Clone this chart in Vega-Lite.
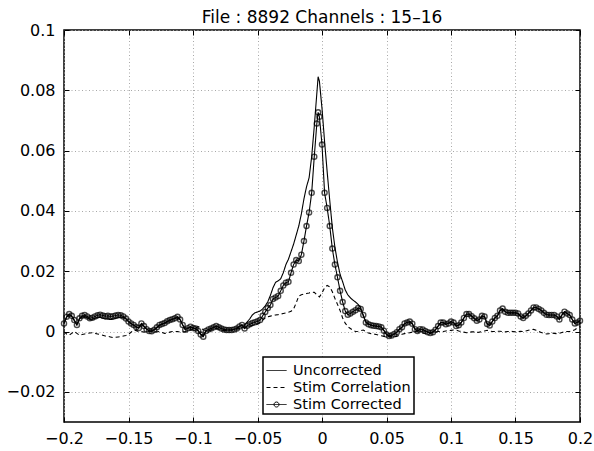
{
"$schema":"https://vega.github.io/schema/vega-lite/v6.json",
"width":516,"height":392,
"autosize":{"type":"none"},
"padding":{"left":64,"top":30,"right":14,"bottom":29},
"background":"white",
"title":{"text":"File : 8892 Channels : 15–16","fontSize":17,"fontWeight":"normal","font":"DejaVu Sans","color":"black","offset":-5},
"config":{"view":{"stroke":"black","strokeWidth":1.5},"font":"DejaVu Sans",
"axis":{"labelFont":"DejaVu Sans","labelFontSize":16,"labelColor":"black","labelFlush":false,"tickColor":"black","tickWidth":1,"gridColor":"#a8a8a8","gridDash":[1,2.5],"gridWidth":1,"domain":false,"title":null}},
"data":{"values":[
{"x":-0.200,"u":0.0027,"s":0.0000,"c":0.0027},
{"x":-0.198,"u":0.0047,"s":-0.0008,"c":0.0049},
{"x":-0.196,"u":0.0056,"s":-0.0012,"c":0.0058},
{"x":-0.194,"u":0.0050,"s":-0.0006,"c":0.0052},
{"x":-0.192,"u":0.0036,"s":0.0000,"c":0.0038},
{"x":-0.190,"u":0.0022,"s":-0.0006,"c":0.0022},
{"x":-0.188,"u":0.0042,"s":-0.0012,"c":0.0044},
{"x":-0.186,"u":0.0048,"s":-0.0010,"c":0.0052},
{"x":-0.184,"u":0.0050,"s":-0.0008,"c":0.0055},
{"x":-0.182,"u":0.0046,"s":-0.0006,"c":0.0050},
{"x":-0.180,"u":0.0040,"s":-0.0005,"c":0.0044},
{"x":-0.178,"u":0.0041,"s":-0.0004,"c":0.0046},
{"x":-0.176,"u":0.0044,"s":-0.0006,"c":0.0050},
{"x":-0.174,"u":0.0046,"s":-0.0008,"c":0.0054},
{"x":-0.172,"u":0.0047,"s":-0.0010,"c":0.0056},
{"x":-0.170,"u":0.0044,"s":-0.0012,"c":0.0053},
{"x":-0.168,"u":0.0042,"s":-0.0015,"c":0.0051},
{"x":-0.166,"u":0.0041,"s":-0.0016,"c":0.0052},
{"x":-0.164,"u":0.0040,"s":-0.0018,"c":0.0050},
{"x":-0.162,"u":0.0041,"s":-0.0020,"c":0.0051},
{"x":-0.160,"u":0.0043,"s":-0.0019,"c":0.0053},
{"x":-0.158,"u":0.0046,"s":-0.0018,"c":0.0055},
{"x":-0.156,"u":0.0048,"s":-0.0017,"c":0.0054},
{"x":-0.154,"u":0.0047,"s":-0.0015,"c":0.0050},
{"x":-0.152,"u":0.0042,"s":-0.0013,"c":0.0043},
{"x":-0.150,"u":0.0033,"s":-0.0010,"c":0.0033},
{"x":-0.148,"u":0.0026,"s":-0.0002,"c":0.0027},
{"x":-0.146,"u":0.0021,"s":0.0005,"c":0.0022},
{"x":-0.144,"u":0.0015,"s":0.0003,"c":0.0015},
{"x":-0.142,"u":0.0012,"s":0.0000,"c":0.0012},
{"x":-0.140,"u":0.0025,"s":0.0000,"c":0.0027},
{"x":-0.138,"u":0.0017,"s":-0.0002,"c":0.0018},
{"x":-0.136,"u":0.0008,"s":-0.0001,"c":0.0008},
{"x":-0.134,"u":0.0003,"s":0.0000,"c":0.0002},
{"x":-0.132,"u":0.0002,"s":0.0001,"c":0.0001},
{"x":-0.130,"u":0.0006,"s":0.0000,"c":0.0006},
{"x":-0.128,"u":0.0013,"s":-0.0001,"c":0.0014},
{"x":-0.126,"u":0.0020,"s":0.0000,"c":0.0022},
{"x":-0.124,"u":0.0024,"s":-0.0003,"c":0.0025},
{"x":-0.122,"u":0.0027,"s":-0.0006,"c":0.0028},
{"x":-0.120,"u":0.0032,"s":-0.0005,"c":0.0034},
{"x":-0.118,"u":0.0036,"s":-0.0002,"c":0.0038},
{"x":-0.116,"u":0.0040,"s":0.0000,"c":0.0041},
{"x":-0.114,"u":0.0043,"s":0.0000,"c":0.0044},
{"x":-0.112,"u":0.0046,"s":0.0000,"c":0.0049},
{"x":-0.110,"u":0.0039,"s":-0.0002,"c":0.0040},
{"x":-0.108,"u":0.0022,"s":-0.0001,"c":0.0022},
{"x":-0.106,"u":0.0007,"s":0.0000,"c":0.0006},
{"x":-0.104,"u":0.0011,"s":0.0002,"c":0.0011},
{"x":-0.102,"u":0.0015,"s":0.0004,"c":0.0016},
{"x":-0.100,"u":0.0012,"s":0.0008,"c":0.0012},
{"x":-0.098,"u":0.0010,"s":0.0012,"c":0.0010},
{"x":-0.096,"u":0.0003,"s":0.0016,"c":0.0002},
{"x":-0.094,"u":-0.0008,"s":0.0012,"c":-0.0010},
{"x":-0.092,"u":-0.0014,"s":0.0006,"c":-0.0017},
{"x":-0.090,"u":0.0002,"s":0.0003,"c":0.0002},
{"x":-0.088,"u":0.0007,"s":0.0003,"c":0.0007},
{"x":-0.086,"u":0.0010,"s":0.0005,"c":0.0010},
{"x":-0.084,"u":0.0013,"s":0.0008,"c":0.0014},
{"x":-0.082,"u":0.0017,"s":0.0010,"c":0.0018},
{"x":-0.080,"u":0.0014,"s":0.0008,"c":0.0014},
{"x":-0.078,"u":0.0010,"s":0.0005,"c":0.0010},
{"x":-0.076,"u":0.0007,"s":0.0004,"c":0.0007},
{"x":-0.074,"u":0.0005,"s":0.0004,"c":0.0005},
{"x":-0.072,"u":0.0005,"s":0.0005,"c":0.0005},
{"x":-0.070,"u":0.0005,"s":0.0005,"c":0.0005},
{"x":-0.068,"u":0.0007,"s":0.0006,"c":0.0007},
{"x":-0.066,"u":0.0011,"s":0.0008,"c":0.0010},
{"x":-0.064,"u":0.0017,"s":0.0010,"c":0.0017},
{"x":-0.062,"u":0.0021,"s":0.0012,"c":0.0022},
{"x":-0.060,"u":0.0022,"s":0.0013,"c":0.0010},
{"x":-0.058,"u":0.0032,"s":0.0015,"c":0.0019},
{"x":-0.056,"u":0.0042,"s":0.0018,"c":0.0024},
{"x":-0.054,"u":0.0055,"s":0.0020,"c":0.0028},
{"x":-0.052,"u":0.0062,"s":0.0022,"c":0.0031},
{"x":-0.050,"u":0.0065,"s":0.0025,"c":0.0034},
{"x":-0.048,"u":0.0068,"s":0.0030,"c":0.0038},
{"x":-0.046,"u":0.0075,"s":0.0038,"c":0.0052},
{"x":-0.044,"u":0.0085,"s":0.0045,"c":0.0065},
{"x":-0.042,"u":0.0099,"s":0.0049,"c":0.0078},
{"x":-0.040,"u":0.0120,"s":0.0051,"c":0.0088},
{"x":-0.038,"u":0.0145,"s":0.0053,"c":0.0108},
{"x":-0.036,"u":0.0163,"s":0.0055,"c":0.0113},
{"x":-0.034,"u":0.0168,"s":0.0056,"c":0.0118},
{"x":-0.032,"u":0.0175,"s":0.0058,"c":0.0135},
{"x":-0.030,"u":0.0195,"s":0.0060,"c":0.0153},
{"x":-0.028,"u":0.0222,"s":0.0062,"c":0.0162},
{"x":-0.026,"u":0.0240,"s":0.0064,"c":0.0165},
{"x":-0.024,"u":0.0265,"s":0.0067,"c":0.0195},
{"x":-0.022,"u":0.0290,"s":0.0075,"c":0.0222},
{"x":-0.020,"u":0.0320,"s":0.0095,"c":0.0237},
{"x":-0.018,"u":0.0350,"s":0.0118,"c":0.0234},
{"x":-0.016,"u":0.0390,"s":0.0122,"c":0.0255},
{"x":-0.014,"u":0.0440,"s":0.0124,"c":0.0300},
{"x":-0.012,"u":0.0480,"s":0.0126,"c":0.0350},
{"x":-0.010,"u":0.0510,"s":0.0128,"c":0.0395},
{"x":-0.008,"u":0.0580,"s":0.0131,"c":0.0460},
{"x":-0.006,"u":0.0680,"s":0.0130,"c":0.0580},
{"x":-0.004,"u":0.0790,"s":0.0122,"c":0.0690},
{"x":-0.003,"u":0.0845,"s":0.0118,"c":0.0727},
{"x":-0.002,"u":0.0830,"s":0.0115,"c":0.0712},
{"x":0.000,"u":0.0740,"s":0.0128,"c":0.0620},
{"x":0.002,"u":0.0630,"s":0.0145,"c":0.0460},
{"x":0.004,"u":0.0530,"s":0.0153,"c":0.0410},
{"x":0.006,"u":0.0435,"s":0.0148,"c":0.0350},
{"x":0.008,"u":0.0345,"s":0.0132,"c":0.0275},
{"x":0.010,"u":0.0280,"s":0.0110,"c":0.0222},
{"x":0.012,"u":0.0230,"s":0.0090,"c":0.0180},
{"x":0.014,"u":0.0190,"s":0.0070,"c":0.0135},
{"x":0.016,"u":0.0165,"s":0.0045,"c":0.0098},
{"x":0.018,"u":0.0138,"s":0.0028,"c":0.0068},
{"x":0.020,"u":0.0122,"s":0.0016,"c":0.0056},
{"x":0.022,"u":0.0112,"s":0.0010,"c":0.0060},
{"x":0.024,"u":0.0104,"s":0.0004,"c":0.0066},
{"x":0.026,"u":0.0098,"s":0.0000,"c":0.0071},
{"x":0.028,"u":0.0090,"s":0.0001,"c":0.0078},
{"x":0.030,"u":0.0078,"s":0.0003,"c":0.0075},
{"x":0.032,"u":0.0052,"s":0.0005,"c":0.0055},
{"x":0.034,"u":0.0033,"s":0.0000,"c":0.0030},
{"x":0.036,"u":0.0025,"s":-0.0005,"c":0.0024},
{"x":0.038,"u":0.0021,"s":-0.0007,"c":0.0021},
{"x":0.040,"u":0.0019,"s":-0.0008,"c":0.0019},
{"x":0.042,"u":0.0018,"s":-0.0010,"c":0.0018},
{"x":0.044,"u":0.0017,"s":-0.0012,"c":0.0017},
{"x":0.046,"u":0.0015,"s":-0.0014,"c":0.0014},
{"x":0.048,"u":0.0004,"s":-0.0016,"c":0.0003},
{"x":0.050,"u":-0.0009,"s":-0.0017,"c":-0.0010},
{"x":0.052,"u":-0.0014,"s":-0.0017,"c":-0.0015},
{"x":0.054,"u":-0.0012,"s":-0.0017,"c":-0.0013},
{"x":0.056,"u":-0.0008,"s":-0.0017,"c":-0.0008},
{"x":0.058,"u":-0.0002,"s":-0.0016,"c":-0.0002},
{"x":0.060,"u":0.0008,"s":-0.0012,"c":0.0008},
{"x":0.062,"u":0.0014,"s":-0.0009,"c":0.0014},
{"x":0.064,"u":0.0026,"s":-0.0007,"c":0.0027},
{"x":0.066,"u":0.0030,"s":-0.0006,"c":0.0030},
{"x":0.068,"u":0.0032,"s":-0.0004,"c":0.0033},
{"x":0.070,"u":0.0026,"s":-0.0002,"c":0.0026},
{"x":0.072,"u":0.0009,"s":0.0000,"c":0.0008},
{"x":0.074,"u":0.0002,"s":-0.0001,"c":0.0002},
{"x":0.076,"u":0.0008,"s":-0.0003,"c":0.0008},
{"x":0.078,"u":0.0007,"s":-0.0005,"c":0.0007},
{"x":0.080,"u":0.0002,"s":-0.0006,"c":0.0002},
{"x":0.082,"u":-0.0002,"s":-0.0006,"c":-0.0002},
{"x":0.084,"u":-0.0004,"s":-0.0006,"c":-0.0005},
{"x":0.086,"u":-0.0002,"s":-0.0004,"c":-0.0002},
{"x":0.088,"u":0.0006,"s":-0.0002,"c":0.0006},
{"x":0.090,"u":0.0018,"s":0.0000,"c":0.0018},
{"x":0.092,"u":0.0029,"s":0.0000,"c":0.0030},
{"x":0.094,"u":0.0030,"s":0.0000,"c":0.0030},
{"x":0.096,"u":0.0024,"s":0.0002,"c":0.0024},
{"x":0.098,"u":0.0027,"s":0.0003,"c":0.0027},
{"x":0.100,"u":0.0032,"s":0.0004,"c":0.0033},
{"x":0.102,"u":0.0030,"s":0.0005,"c":0.0030},
{"x":0.104,"u":0.0018,"s":0.0005,"c":0.0018},
{"x":0.106,"u":0.0021,"s":0.0002,"c":0.0021},
{"x":0.108,"u":0.0030,"s":0.0000,"c":0.0030},
{"x":0.110,"u":0.0045,"s":-0.0002,"c":0.0045},
{"x":0.112,"u":0.0057,"s":-0.0004,"c":0.0058},
{"x":0.114,"u":0.0058,"s":-0.0003,"c":0.0058},
{"x":0.116,"u":0.0051,"s":-0.0001,"c":0.0051},
{"x":0.118,"u":0.0044,"s":-0.0001,"c":0.0044},
{"x":0.120,"u":0.0036,"s":-0.0003,"c":0.0036},
{"x":0.122,"u":0.0040,"s":-0.0002,"c":0.0040},
{"x":0.124,"u":0.0051,"s":0.0000,"c":0.0052},
{"x":0.126,"u":0.0050,"s":0.0002,"c":0.0050},
{"x":0.128,"u":0.0026,"s":0.0004,"c":0.0025},
{"x":0.130,"u":0.0020,"s":0.0002,"c":0.0020},
{"x":0.132,"u":0.0033,"s":0.0000,"c":0.0033},
{"x":0.134,"u":0.0045,"s":0.0000,"c":0.0045},
{"x":0.136,"u":0.0052,"s":0.0001,"c":0.0052},
{"x":0.138,"u":0.0069,"s":0.0001,"c":0.0070},
{"x":0.140,"u":0.0075,"s":0.0000,"c":0.0076},
{"x":0.142,"u":0.0066,"s":-0.0001,"c":0.0066},
{"x":0.144,"u":0.0062,"s":0.0000,"c":0.0062},
{"x":0.146,"u":0.0062,"s":0.0001,"c":0.0062},
{"x":0.148,"u":0.0062,"s":0.0000,"c":0.0062},
{"x":0.150,"u":0.0062,"s":-0.0001,"c":0.0062},
{"x":0.152,"u":0.0060,"s":0.0000,"c":0.0060},
{"x":0.154,"u":0.0050,"s":0.0001,"c":0.0050},
{"x":0.156,"u":0.0045,"s":0.0000,"c":0.0045},
{"x":0.158,"u":0.0052,"s":0.0002,"c":0.0052},
{"x":0.160,"u":0.0060,"s":0.0004,"c":0.0060},
{"x":0.162,"u":0.0070,"s":0.0006,"c":0.0070},
{"x":0.164,"u":0.0079,"s":0.0007,"c":0.0080},
{"x":0.166,"u":0.0080,"s":0.0004,"c":0.0080},
{"x":0.168,"u":0.0075,"s":0.0000,"c":0.0075},
{"x":0.170,"u":0.0070,"s":-0.0003,"c":0.0070},
{"x":0.172,"u":0.0062,"s":-0.0006,"c":0.0062},
{"x":0.174,"u":0.0056,"s":-0.0008,"c":0.0056},
{"x":0.176,"u":0.0055,"s":-0.0007,"c":0.0055},
{"x":0.178,"u":0.0055,"s":-0.0005,"c":0.0055},
{"x":0.180,"u":0.0055,"s":-0.0006,"c":0.0055},
{"x":0.182,"u":0.0050,"s":-0.0007,"c":0.0050},
{"x":0.184,"u":0.0040,"s":-0.0006,"c":0.0040},
{"x":0.186,"u":0.0055,"s":-0.0003,"c":0.0055},
{"x":0.188,"u":0.0066,"s":-0.0001,"c":0.0066},
{"x":0.190,"u":0.0060,"s":0.0000,"c":0.0060},
{"x":0.192,"u":0.0055,"s":0.0000,"c":0.0055},
{"x":0.194,"u":0.0040,"s":0.0002,"c":0.0040},
{"x":0.196,"u":0.0027,"s":0.0006,"c":0.0027},
{"x":0.198,"u":0.0030,"s":0.0012,"c":0.0030},
{"x":0.200,"u":0.0036,"s":0.0016,"c":0.0036}
]},
"layer":[
{"transform":[{"fold":["u","s","c"],"as":["k","v"]}],
 "mark":{"type":"line","color":"black","strokeWidth":1.1},
 "encoding":{
  "x":{"field":"x","type":"quantitative","scale":{"domain":[-0.2,0.2],"nice":false,"zero":false},
       "axis":{"orient":"bottom","values":[-0.2,-0.15,-0.1,-0.05,0,0.05,0.1,0.15,0.2],"format":".2~f","grid":true,"tickSize":-5,"labelPadding":13}},
  "y":{"field":"v","type":"quantitative","scale":{"domain":[-0.03,0.1],"nice":false,"zero":false},
       "axis":{"orient":"left","values":[-0.02,0,0.02,0.04,0.06,0.08,0.1],"format":".2~f","grid":true,"tickSize":-5,"labelPadding":14}},
  "strokeDash":{"field":"k","type":"nominal","scale":{"domain":["u","s","c"],"range":[[1,0],[4,3],[1,0]]},
    "legend":{"title":null,"orient":"none","legendX":199,"legendY":327,"strokeColor":"black","fillColor":"white","padding":3,
      "symbolType":"stroke","symbolSize":400,"symbolStrokeWidth":1,"symbolStrokeColor":"black","labelFontSize":14.5,"labelColor":"black","labelFont":"DejaVu Sans","labelOffset":6,"rowPadding":-1,
      "labelExpr":"datum.value == 'u' ? 'Uncorrected' : datum.value == 's' ? 'Stim Correlation' : 'Stim Corrected'",
      "encode":{"legend":{"update":{"strokeWidth":{"value":1.5}}},
        "symbols":{"update":{"shape":{"signal":"datum.value === 'c' ? 'M-1,0L1,0M0.25,0A0.25,0.25,0,1,1,-0.25,0A0.25,0.25,0,1,1,0.25,0' : 'stroke'"}}}}}}
 }},
{"mark":{"type":"point","shape":"circle","filled":false,"color":"black","size":26,"strokeWidth":1.4},
 "encoding":{
  "x":{"field":"x","type":"quantitative","scale":{"domain":[-0.2,0.2],"nice":false,"zero":false},
       "axis":{"orient":"top","values":[-0.2,-0.15,-0.1,-0.05,0,0.05,0.1,0.15,0.2],"labels":false,"grid":false,"tickSize":-5}},
  "y":{"field":"c","type":"quantitative","scale":{"domain":[-0.03,0.1],"nice":false,"zero":false},
       "axis":{"orient":"right","values":[-0.02,0,0.02,0.04,0.06,0.08,0.1],"labels":false,"grid":false,"tickSize":-5}}
 }}
],
"resolve":{"axis":{"x":"independent","y":"independent"}}
}
